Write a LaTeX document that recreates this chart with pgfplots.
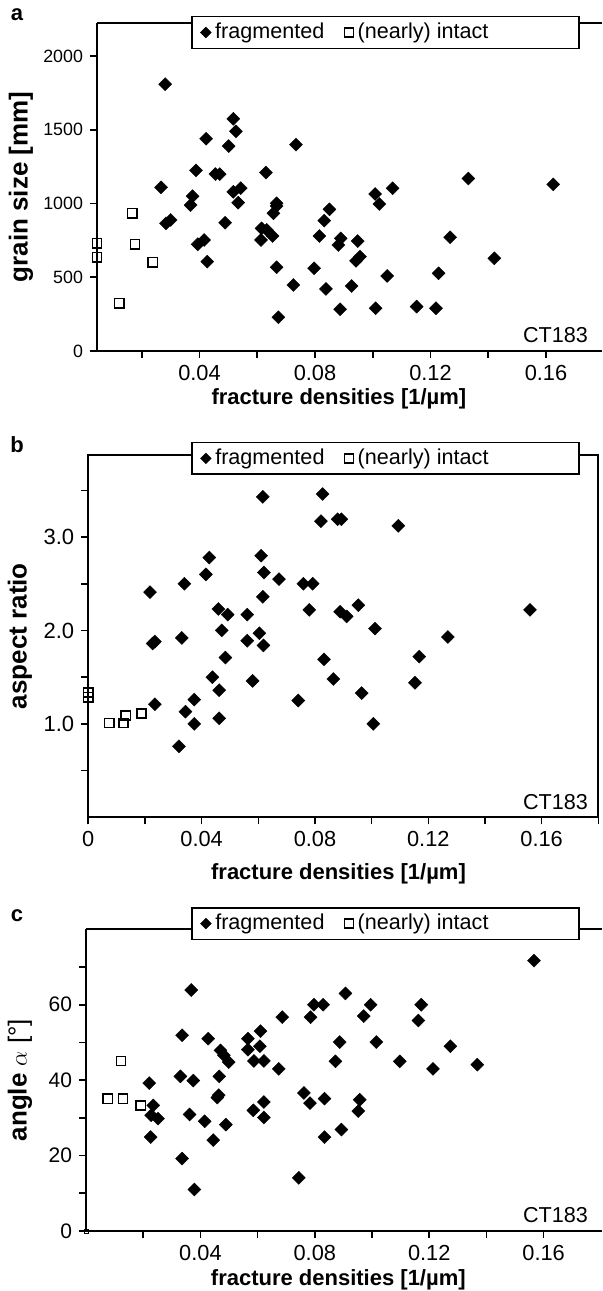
\documentclass[border=0pt]{standalone}
\usepackage{pgfplots}
\pgfplotsset{compat=1.18}
\usepackage{fontspec}
\setmainfont{Liberation Sans}

\pgfplotsset{
  frag/.style={only marks, mark=square*, mark size=2.3pt,
    mark options={rotate=45, fill=black, draw=black, line width=0.2pt},
    legend image code/.code={\draw[##1,mark size=1.9pt] plot coordinates {(0pt,0pt)};}},
  intact/.style={only marks, mark=square, mark size=2.3pt,
    mark options={fill=white, draw=black, line width=0.7pt},
    legend image code/.code={\draw[##1,mark size=2.3pt] plot coordinates {(0pt,0pt)};}},
  panel/.style={scale only axis, anchor=south west, clip=false,
    axis line style={line width=0.9pt, black},
    tick style={line width=0.8pt, black},
    major tick length=3.5pt, tick align=outside,
    /pgf/number format/assume math mode=true,
    xticklabel style={font=\fontsize{10.9}{12}\selectfont},
    xlabel style={font=\fontsize{11}{13}\selectfont\bfseries},
    ylabel style={font=\fontsize{13}{15}\selectfont\bfseries},
    legend columns=2,
    legend cell align=left,
    legend style={draw=black, line width=0.9pt, fill=white, anchor=north west,
      inner xsep=4.3pt, inner ysep=1.3pt,
      cells={inner xsep=1pt, inner ysep=1.5pt},
      font=\fontsize{10.8}{12}\selectfont,
      /tikz/every even column/.append style={column sep=8pt}},
  },
}

\begin{document}
\begin{tikzpicture}
\useasboundingbox (0,0) rectangle (301pt,645.5pt);

% ---------------- panel a ----------------
\begin{axis}[panel, at={(48.5pt,470pt)}, width=252.5pt, height=164pt,
  xmin=0.0045, xmax=0.1794, ymin=0, ymax=2225,
  axis x line*=bottom, axis y line*=left,
  xtick={0.02,0.04,0.06,0.08,0.10,0.12,0.14,0.16},
  xticklabels={,0.04,,0.08,,0.12,,0.16},
  ytick={0,500,1000,1500,2000}, yticklabels={0,500,1000,1500,2000},
  yticklabel style={font=\fontsize{8.9}{10}\selectfont},
  xlabel={fracture densities [1/µm]},
  ylabel={grain size [mm]},
  xlabel style={at={(rel axis cs:0.479,-0.1646)}, anchor=base},
  ylabel style={at={(rel axis cs:-0.1508,0.5)}, anchor=center, rotate=0},
  legend style={at={(0.1861,1.0223)}},
]
\addplot[frag] coordinates {
(0.0281,1810) (0.0517,1575) (0.0526,1490) (0.0423,1440) (0.0501,1390)
(0.0734,1400) (0.0388,1225) (0.0455,1200) (0.0470,1200) (0.0630,1210)
(0.0267,1110) (0.0376,1050) (0.0517,1080) (0.0543,1105) (0.1331,1170)
(0.1625,1130) (0.1008,1065) (0.1069,1104) (0.1023,997) (0.0369,990)
(0.0534,1006) (0.0667,1002) (0.0667,984) (0.0656,934) (0.0284,866)
(0.0300,889) (0.0489,870) (0.0615,832) (0.0633,821) (0.0613,753)
(0.0653,780) (0.0394,724) (0.0416,753) (0.0427,606) (0.0667,568)
(0.0725,448) (0.0673,229) (0.0797,561) (0.0815,780) (0.0832,884)
(0.0850,961) (0.0838,421) (0.0889,764) (0.0881,719) (0.0948,746)
(0.0956,640) (0.0942,611) (0.0927,441) (0.1050,509) (0.0887,283)
(0.1010,290) (0.1152,301) (0.1219,290) (0.1228,527) (0.1268,771)
(0.1421,629)
};
\addlegendentry{fragmented}
\addplot[intact] coordinates {
(0.0045,731) (0.0045,636) (0.0167,934) (0.0177,724) (0.0238,602) (0.0122,324)
};
\addlegendentry{(nearly) intact\hspace*{39pt}}
\draw[line width=0.9pt] (rel axis cs:0,1) -- (rel axis cs:1,1);
\node[anchor=base east, font=\fontsize{10.8}{12}\selectfont] at (rel axis cs:0.986,0.0274) {CT183};
\end{axis}

% ---------------- panel b ----------------
\begin{axis}[panel, at={(44.15pt,236.85pt)}, width=255pt, height=181.2pt,
  xmin=0, xmax=0.18, ymin=0, ymax=3.879,
  xtick pos=left, ytick pos=left,
  xtick={0,0.02,0.04,0.06,0.08,0.10,0.12,0.14,0.16,0.18},
  xticklabels={0,,0.04,,0.08,,0.12,,0.16,},
  ytick={0.5,1,1.5,2,2.5,3,3.5}, yticklabels={,1.0,,2.0,,3.0,},
  yticklabel style={font=\fontsize{11}{12}\selectfont},
  xlabel={fracture densities [1/µm]},
  ylabel={aspect ratio},
  xlabel style={at={(rel axis cs:0.4906,-0.171)}, anchor=base},
  ylabel style={at={(rel axis cs:-0.1339,0.5)}, anchor=center, rotate=0},
  legend style={at={(0.2014,1.0367)}},
]
\addplot[frag] coordinates {
(0.0616,3.43) (0.0827,3.46) (0.0821,3.17) (0.0880,3.19) (0.0893,3.19)
(0.1094,3.12) (0.0427,2.78) (0.0610,2.80) (0.0415,2.60) (0.0620,2.62)
(0.0339,2.50) (0.0673,2.55) (0.0759,2.50) (0.0792,2.50) (0.0218,2.41)
(0.0616,2.36) (0.0459,2.23) (0.0492,2.17) (0.0561,2.17) (0.0780,2.22)
(0.0889,2.20) (0.0912,2.15) (0.0953,2.27) (0.1559,2.22) (0.0471,2.00)
(0.0604,1.97) (0.0330,1.92) (0.0227,1.86) (0.0235,1.88) (0.0561,1.89)
(0.0618,1.84) (0.0484,1.71) (0.0832,1.69) (0.1012,2.02) (0.1269,1.93)
(0.1168,1.72) (0.0438,1.50) (0.0580,1.46) (0.0865,1.48) (0.1153,1.44)
(0.0462,1.36) (0.0374,1.26) (0.0741,1.25) (0.0235,1.21) (0.0343,1.13)
(0.0462,1.06) (0.0374,1.00) (0.0320,0.76) (0.0965,1.33) (0.1006,1.00)
};
\addlegendentry{fragmented}
\addplot[intact] coordinates {
(0,1.335) (0,1.285) (0.0074,1.01) (0.0124,1.01) (0.0132,1.09) (0.0188,1.11)
};
\addlegendentry{(nearly) intact\hspace*{39pt}}
\node[anchor=base east, font=\fontsize{10.8}{12}\selectfont] at (rel axis cs:0.9935,0.0204) {CT183};
\end{axis}

% ---------------- panel c ----------------
\begin{axis}[panel, at={(43pt,30pt)}, width=258pt, height=150.85pt,
  xmin=0, xmax=0.1804, ymin=0, ymax=80,
  axis x line*=bottom, axis y line*=left,
  xtick={0.02,0.04,0.06,0.08,0.10,0.12,0.14,0.16},
  xticklabels={,0.04,,0.08,,0.12,,0.16},
  ytick={0,10,20,30,40,50,60,70}, yticklabels={0,,20,,40,,60,},
  yticklabel style={font=\fontsize{10.5}{12}\selectfont},
  xlabel={fracture densities [1/µm]},
  ylabel={angle {\mdseries$\alpha$ [°]}},
  xlabel style={at={(rel axis cs:0.489,-0.179)}, anchor=base},
  ylabel style={at={(rel axis cs:-0.1279,0.5)}, anchor=center, rotate=0},
  legend style={at={(0.2035,1.0749)}},
]
\addplot[frag] coordinates {
(0.0368,63.9) (0.0336,51.9) (0.0427,51.0) (0.0686,56.7) (0.0785,56.7)
(0.0797,60.0) (0.0829,60.0) (0.0566,51.0) (0.0610,53.0) (0.0566,48.1)
(0.0608,49.0) (0.1566,71.7) (0.0907,63.0) (0.0995,60.0) (0.1172,60.0)
(0.0971,57.0) (0.1162,55.8) (0.0887,50.1) (0.1015,50.1) (0.1274,49.0)
(0.0470,47.9) (0.0482,46.6) (0.0499,44.8) (0.0587,45.1) (0.0622,45.1)
(0.0674,43.0) (0.0330,41.0) (0.0375,39.9) (0.0466,41.0) (0.0221,39.2)
(0.0464,36.0) (0.0459,35.4) (0.0235,33.3) (0.0228,30.7) (0.0252,29.8)
(0.0362,30.9) (0.0415,29.1) (0.0585,32.0) (0.0622,34.2) (0.0622,30.1)
(0.0489,28.2) (0.0226,24.9) (0.0445,24.1) (0.0336,19.2) (0.0379,11.0)
(0.0744,14.1) (0.0762,36.6) (0.0783,33.9) (0.0834,35.1) (0.0834,24.9)
(0.0872,45.0) (0.1097,45.0) (0.1213,43.0) (0.1368,44.1) (0.0957,34.8)
(0.0952,31.8) (0.0893,26.9)
};
\addlegendentry{fragmented}
\addplot[intact] coordinates {
(0.0123,45.1) (0.0076,35.1) (0.0130,35.1) (0.0191,33.3)
};
\addlegendentry{(nearly) intact\hspace*{39pt}}
\addplot[only marks, mark=square, mark size=1pt, mark options={draw=black, line width=0.4pt}, forget plot] coordinates {(0,0)};
\draw[line width=0.9pt] (rel axis cs:0,1) -- (rel axis cs:1,1);
\node[anchor=base east, font=\fontsize{10.8}{12}\selectfont] at (rel axis cs:0.9864,0.0298) {CT183};
\end{axis}

\node[font=\fontsize{11}{13}\selectfont\bfseries] at (8.5pt,638pt) {a};
\node[font=\fontsize{11}{13}\selectfont\bfseries] at (8.5pt,423pt) {b};
\node[font=\fontsize{11}{13}\selectfont\bfseries] at (8.5pt,187.5pt) {c};
\end{tikzpicture}
\end{document}
